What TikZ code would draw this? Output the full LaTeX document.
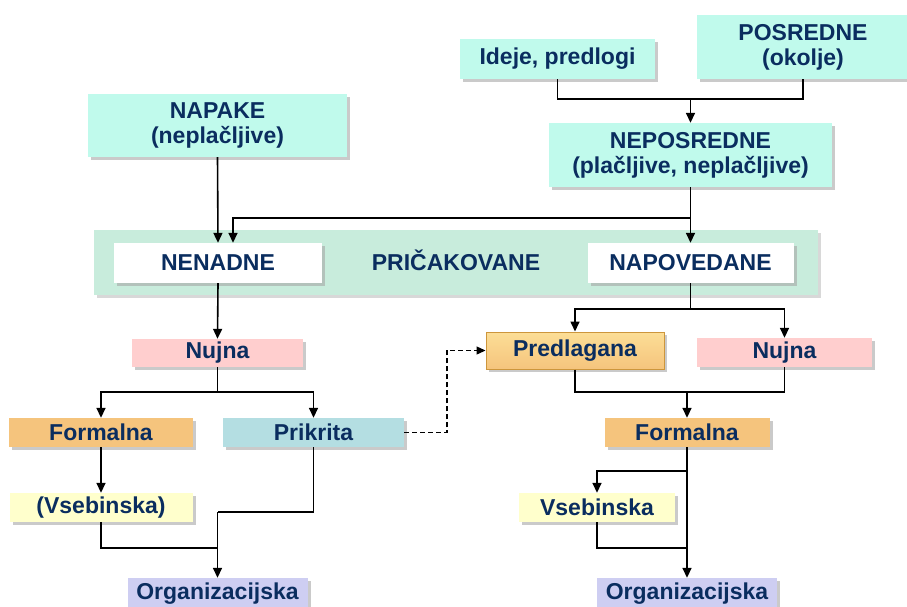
\documentclass[tikz,border=0pt]{standalone}
\usepackage{fontspec}
\setmainfont{Liberation Sans}
\usepackage{tikz}
\usetikzlibrary{arrows.meta, shadows}
\usepackage{xcolor}
\definecolor{textnavy}{RGB}{10,45,95}
\definecolor{aqua}{RGB}{192,250,236}
\definecolor{sage}{RGB}{200,236,220}
\definecolor{rose}{RGB}{255,206,206}
\definecolor{amber}{RGB}{245,196,125}
\definecolor{amberdark}{RGB}{205,150,60}
\definecolor{amberlight}{RGB}{252,222,150}
\definecolor{teal}{RGB}{180,222,226}
\definecolor{cream}{RGB}{255,255,204}
\definecolor{lavender}{RGB}{206,206,242}
\tikzset{
    napis/.style={inner sep=0pt, align=center, text=textnavy,
        font=\fontsize{23}{25}\selectfont\bfseries},
    box/.style={napis,
        drop shadow={shadow xshift=3pt, shadow yshift=-3pt, fill=black!35, opacity=0.6}},
    frame/.style={inner sep=0pt,
        drop shadow={shadow xshift=3pt, shadow yshift=-3pt, fill=black!30, opacity=0.5}},
    link/.style={line width=1.6pt},
    arr/.style={line width=1.6pt, -{Triangle[length=10pt,width=9pt]}},
    hint/.style={line width=1.3pt, dash pattern=on 5pt off 3pt, -{Triangle[length=9pt,width=8pt]}}
}

\begin{document}
\begin{tikzpicture}[x=1pt, y=-1pt]
    \useasboundingbox (0,0) rectangle (907,606);
    % top row
    \node[box, fill=aqua, minimum width=195pt, minimum height=40pt] (ideje) at (557.5,59) {Ideje, predlogi};
    \node[box, fill=aqua, minimum width=212pt, minimum height=64pt] (posredne) at (803,47) {POSREDNE\\(okolje)};
    \node[box, fill=aqua, minimum width=283pt, minimum height=64pt] (neposredne) at (690.5,155) {NEPOSREDNE\\(plačljive, neplačljive)};
    \node[box, fill=aqua, minimum width=259pt, minimum height=63pt] (napake) at (217.5,125.5) {NAPAKE\\(neplačljive)};
    % pricakovane
    \node[frame, fill=sage, minimum width=724pt, minimum height=65pt] (pricakovane) at (456,262.5) {};
    \node[box, fill=white, minimum width=208pt, minimum height=40pt] (nenadne) at (218,263) {NENADNE};
    \node[box, fill=white, minimum width=206pt, minimum height=40pt] (napovedane) at (690.5,263) {NAPOVEDANE};
    \node[napis] (pricnapis) at (456,260) {PRIČAKOVANE};
    % levo
    \node[box, fill=rose, minimum width=171pt, minimum height=28pt] (nujnaL) at (217.5,353) {Nujna};
    \node[box, fill=amber, minimum width=184pt, minimum height=29pt] (formalnaL) at (101,432.5) {Formalna};
    \node[box, fill=teal, minimum width=181pt, minimum height=29pt] (prikrita) at (313.5,432.5) {Prikrita};
    \node[box, fill=cream, minimum width=183pt, minimum height=29pt] (vsebinskaL) at (101,507.5) {(Vsebinska)};
    \node[box, fill=lavender, minimum width=180pt, minimum height=32pt] (organizL) at (217.5,594) {Organizacijska};
    % desno
    \node[box, draw=amberdark, line width=1pt, top color=amberlight, bottom color=amber, minimum width=178pt, minimum height=37pt] (predlagana) at (575,350.5) {Predlagana};
    \node[box, fill=rose, minimum width=175pt, minimum height=29pt] (nujnaR) at (784.5,352.5) {Nujna};
    \node[box, fill=amber, minimum width=165pt, minimum height=29pt] (formalnaR) at (687,432.5) {Formalna};
    \node[box, fill=cream, minimum width=156pt, minimum height=29pt] (vsebinskaR) at (597,507.5) {Vsebinska};
    \node[box, fill=lavender, minimum width=180pt, minimum height=32pt] (organizR) at (687,594) {Organizacijska};

    % zgoraj
    \coordinate (j1) at (690.5,99);
    \coordinate (j2) at (690.5,218);
    \draw[link] (ideje.south) |- (j1) -| (posredne.south);
    \draw[arr] (j1) -- (neposredne.north);
    \draw[arr] (neposredne.south) -- (napovedane.north);
    \draw[arr] (j2) -| ([xshift=15pt]nenadne.north);
    \draw[arr] (napake.south) -- (nenadne.north);

    % leva veja
    \coordinate (j3) at (217.5,392);
    \coordinate (j4) at (217.5,548);
    \coordinate (j5) at (217.5,512);
    \draw[arr] (nenadne.south) -- (nujnaL.north);
    \draw[link] (nujnaL.south) -- (j3);
    \draw[arr] (j3) -| (formalnaL.north);
    \draw[arr] (j3) -| (prikrita.north);
    \draw[arr] (formalnaL.south) -- (vsebinskaL.north);
    \draw[link] (vsebinskaL.south) |- (j4);
    \draw[link] (prikrita.south) |- (j5);
    \draw[arr] (j5) -- (organizL.north);

    % prikrita -> predlagana
    \coordinate (d1) at (447,350.5);
    \draw[hint] (prikrita.east) -| (d1) -- (predlagana.west);

    % desna veja
    \coordinate (j6) at (690.5,309);
    \coordinate (j7) at (687,392);
    \coordinate (j8) at (687,471);
    \coordinate (j9) at (687,548);
    \draw[link] (napovedane.south) -- (j6);
    \draw[arr] (j6) -| (predlagana.north);
    \draw[arr] (j6) -| (nujnaR.north);
    \draw[link] (predlagana.south) |- (j7) -| (nujnaR.south);
    \draw[arr] (j7) -- (formalnaR.north);
    \draw[arr] (formalnaR.south) -- (organizR.north);
    \draw[arr] (j8) -| (vsebinskaR.north);
    \draw[link] (vsebinskaR.south) |- (j9);
\end{tikzpicture}
\end{document}
